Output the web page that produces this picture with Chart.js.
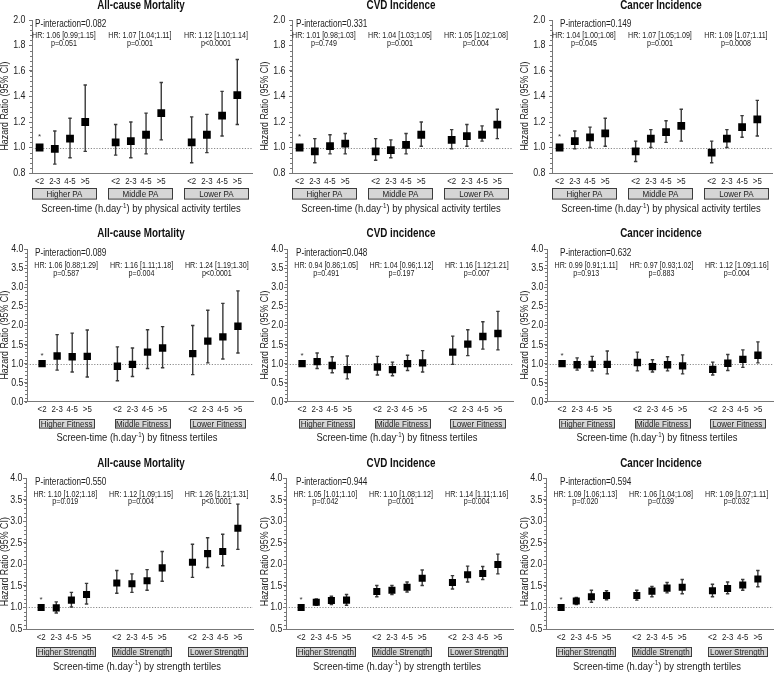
<!DOCTYPE html>
<html><head><meta charset="utf-8">
<script src="https://cdn.jsdelivr.net/npm/chart.js@4.4.1/dist/chart.umd.min.js"></script>
<style>
html,body{margin:0;padding:0;background:#fff;}
#wrap{position:relative;width:778px;height:673px;overflow:hidden;background:#fff;}
canvas{position:absolute;}
</style></head><body><div id="wrap"></div>
<script>
const FONT = '"Liberation Sans", Arial, Helvetica, sans-serif';
const NARROW = 0.82; // horizontal compression of the original's narrow typeface

// ---------- categories / tick labels ----------
const screenTimeLabels = ['<2', '2-3', '4-5', '>5'];
const xPositions = [0, 1, 2, 3, 5, 6, 7, 8, 10, 11, 12, 13];
const groupCenters = [1.5, 6.5, 11.5];
const outcomeTitles = [
  ['All-cause Mortality', 'CVD Incidence', 'Cancer Incidence'],
  ['All-cause Mortality', 'CVD incidence', 'Cancer incidence'],
  ['All-cause Mortality', 'CVD Incidence', 'Cancer Incidence']
];
const paGroups = ['Higher PA', 'Middle PA', 'Lower PA'];
const fitnessGroups = ['Higher Fitness', 'Middle Fitness', 'Lower Fitness'];
const strengthGroups = ['Higher Strength', 'Middle Strength', 'Lower Strength'];
const tertileNames = ['physical activity', 'fitness', 'strength'];
const yAxisTitle = 'Hazard Ratio (95% CI)';

// ---------- series values (HR, lower CI, upper CI) ----------
// Row 1: physical activity
const paMortHR = [1.00, 0.99, 1.07, 1.20, 1.04, 1.05, 1.10, 1.27, 1.04, 1.10, 1.25, 1.41];
const paMortLo = [null, 0.87, 0.92, 0.97, 0.94, 0.92, 0.95, 1.06, 0.88, 0.96, 1.09, 1.18];
const paMortHi = [null, 1.13, 1.23, 1.49, 1.18, 1.20, 1.27, 1.51, 1.24, 1.26, 1.44, 1.69];
const paCvdHR = [1.00, 0.97, 1.01, 1.03, 0.97, 0.98, 1.02, 1.10, 1.06, 1.09, 1.10, 1.18];
const paCvdLo = [null, 0.88, 0.95, 0.95, 0.90, 0.92, 0.95, 1.01, 0.99, 1.01, 1.05, 1.07];
const paCvdHi = [null, 1.07, 1.10, 1.11, 1.07, 1.06, 1.11, 1.20, 1.14, 1.18, 1.17, 1.30];
const paCancerHR = [1.00, 1.05, 1.08, 1.11, 0.97, 1.07, 1.12, 1.17, 0.96, 1.07, 1.16, 1.22];
const paCancerLo = [null, 0.99, 1.00, 1.01, 0.89, 1.00, 1.04, 1.05, 0.88, 1.00, 1.08, 1.09];
const paCancerHi = [null, 1.13, 1.16, 1.23, 1.05, 1.14, 1.21, 1.30, 1.05, 1.14, 1.25, 1.37];
// Row 2: fitness
const fitMortHR = [1.00, 1.20, 1.18, 1.19, 0.93, 0.98, 1.30, 1.41, 1.26, 1.59, 1.70, 1.98];
const fitMortLo = [null, 0.83, 0.78, 0.65, 0.55, 0.66, 0.87, 0.89, 0.71, 1.02, 1.12, 1.28];
const fitMortHi = [null, 1.76, 1.80, 1.88, 1.44, 1.41, 1.89, 1.97, 2.00, 2.40, 2.58, 2.91];
const fitCvdHR = [1.00, 1.05, 0.95, 0.84, 0.91, 0.84, 1.00, 1.02, 1.30, 1.51, 1.71, 1.79];
const fitCvdLo = [null, 0.87, 0.76, 0.60, 0.70, 0.68, 0.82, 0.78, 0.98, 1.21, 1.38, 1.36];
const fitCvdHi = [null, 1.28, 1.18, 1.20, 1.19, 1.04, 1.22, 1.34, 1.72, 1.89, 2.10, 2.37];
const fitCancerHR = [1.00, 0.97, 0.98, 0.98, 1.03, 0.92, 0.97, 0.94, 0.85, 1.01, 1.11, 1.22];
const fitCancerLo = [null, 0.83, 0.81, 0.73, 0.81, 0.78, 0.81, 0.73, 0.70, 0.82, 0.90, 1.02];
const fitCancerHi = [null, 1.15, 1.19, 1.33, 1.30, 1.10, 1.18, 1.23, 1.04, 1.24, 1.36, 1.57];
// Row 3: strength
const strMortHR = [1.00, 0.99, 1.17, 1.30, 1.57, 1.55, 1.62, 1.92, 2.05, 2.25, 2.30, 2.84];
const strMortLo = [null, 0.87, 1.01, 1.08, 1.33, 1.35, 1.40, 1.61, 1.70, 1.93, 1.97, 2.35];
const strMortHi = [null, 1.13, 1.35, 1.56, 1.86, 1.78, 1.88, 2.30, 2.47, 2.62, 2.70, 3.40];
const strCvdHR = [1.00, 1.12, 1.16, 1.17, 1.37, 1.40, 1.47, 1.68, 1.58, 1.76, 1.79, 2.00];
const strCvdLo = [null, 1.05, 1.07, 1.05, 1.25, 1.30, 1.36, 1.51, 1.43, 1.59, 1.65, 1.78];
const strCvdHi = [null, 1.20, 1.26, 1.30, 1.51, 1.51, 1.59, 1.87, 1.74, 1.96, 1.95, 2.24];
const strCancerHR = [1.00, 1.15, 1.25, 1.28, 1.28, 1.38, 1.45, 1.47, 1.39, 1.44, 1.52, 1.66];
const strCancerLo = [null, 1.07, 1.12, 1.18, 1.17, 1.25, 1.34, 1.32, 1.25, 1.32, 1.40, 1.48];
const strCancerHi = [null, 1.23, 1.40, 1.39, 1.40, 1.49, 1.58, 1.65, 1.54, 1.59, 1.65, 1.86];

// ---------- annotation texts ----------
const pInteraction = [['0.082', '0.331', '0.149'], ['0.089', '0.048', '0.632'], ['0.550', '0.944', '0.594']];
const hrTexts = [
  [['HR: 1.06 [0.99;1.15]', 'HR: 1.07 [1.04;1.11]', 'HR: 1.12 [1.10;1.14]'],
   ['HR: 1.01 [0.98;1.03]', 'HR: 1.04 [1.03;1.05]', 'HR: 1.05 [1.02;1.08]'],
   ['HR: 1.04 [1.00;1.08]', 'HR: 1.07 [1.05;1.09]', 'HR: 1.09 [1.07;1.11]']],
  [['HR: 1.06 [0.88;1.29]', 'HR: 1.16 [1.11;1.18]', 'HR: 1.24 [1.19;1.30]'],
   ['HR: 0.94 [0.86;1.05]', 'HR: 1.04 [0.96;1.12]', 'HR: 1.16 [1.12;1.21]'],
   ['HR: 0.99 [0.91;1.11]', 'HR: 0.97 [0.93;1.02]', 'HR: 1.12 [1.09;1.16]']],
  [['HR: 1.10 [1.02;1.18]', 'HR: 1.12 [1.09;1.15]', 'HR: 1.26 [1.21;1.31]'],
   ['HR: 1.05 [1.01;1.10]', 'HR: 1.10 [1.08;1.12]', 'HR: 1.14 [1.11;1.16]'],
   ['HR: 1.09 [1.06;1.13]', 'HR: 1.06 [1.04;1.08]', 'HR: 1.09 [1.07;1.11]']]
];
const pTexts = [
  [['p=0.051', 'p=0.001', 'p<0.0001'], ['p=0.749', 'p=0.001', 'p=0.004'], ['p=0.045', 'p=0.001', 'p=0.0008']],
  [['p=0.587', 'p=0.004', 'p<0.0001'], ['p=0.491', 'p=0.197', 'p=0.007'], ['p=0.913', 'p=0.883', 'p=0.004']],
  [['p=0.019', 'p=0.004', 'p<0.0001'], ['p=0.042', 'p=0.001', 'p=0.004'], ['p=0.020', 'p=0.039', 'p=0.032']]
];

// ---------- layout (positions / styles) ----------
const colLeft = [0, 260, 520];
const rowTop = [0, 222, 445];
const rowHeight = [222, 223, 228];
const PANEL_W = 259;
const rowGeom = [
  {top: 20, bottom: 173, left: 32, right: 252.5, xmin: -0.5, xmax: 14, ymin: 0.8, ymax: 2.0, step: 0.2, minor: 0.04, r: 5.5, xlOff: 8, ylGap: 6.5,
   titleY: 6, pY: 24.3, hrY: 35.3, pvY: 43.3, boxTop: 187.7, boxH: 10.6, boxW: 64, xTitleY: 209.3, xTitleX: 141, yTitleY: 106, astOff: 11},
  {top: 27.3, bottom: 179.7, left: 27, right: 253, xmin: -1, xmax: 14, ymin: 0, ymax: 4, step: 0.5, minor: 0.1, r: 5.2, xlOff: 7.6, ylGap: 3.5,
   titleY: 12, pY: 31.7, hrY: 44, pvY: 51.3, boxTop: 197, boxH: 8.6, boxW: 55, xTitleY: 216.3, xTitleX: 137, yTitleY: 113, astOff: 8},
  {top: 33.3, bottom: 184, left: 26, right: 253, xmin: -1, xmax: 14, ymin: 0.5, ymax: 4, step: 0.5, minor: 0.1, r: 5, xlOff: 8.7, ylGap: 3.5,
   titleY: 18.3, pY: 37.3, hrY: 49.3, pvY: 56.7, boxTop: 201.7, boxH: 9, boxW: 59, xTitleY: 221.7, xTitleX: 137, yTitleY: 116.7, astOff: 8}
];
const pX = [35, 36, 40];

const series = [
  [[paMortHR, paMortLo, paMortHi], [paCvdHR, paCvdLo, paCvdHi], [paCancerHR, paCancerLo, paCancerHi]],
  [[fitMortHR, fitMortLo, fitMortHi], [fitCvdHR, fitCvdLo, fitCvdHi], [fitCancerHR, fitCancerLo, fitCancerHi]],
  [[strMortHR, strMortLo, strMortHi], [strCvdHR, strCvdLo, strCvdHi], [strCancerHR, strCancerLo, strCancerHi]]
];
const rowGroups = [paGroups, fitnessGroups, strengthGroups];

function font(size, bold) { return (bold ? 'bold ' : '') + size + 'px ' + FONT; }
function txt(ctx, s, x, y, size, align, bold, color, sx) {
  ctx.save();
  ctx.translate(x, y);
  ctx.scale(sx == null ? NARROW : sx, 1);
  ctx.font = font(size, bold);
  ctx.fillStyle = color || '#222';
  ctx.textAlign = align || 'center';
  ctx.textBaseline = 'middle';
  ctx.fillText(s, 0, 0);
  ctx.restore();
}
function measure(ctx, s, size, bold) {
  ctx.save(); ctx.font = font(size, bold);
  const w = ctx.measureText(s).width * NARROW;
  ctx.restore(); return w;
}

function makePanel(row, col) {
  const g = rowGeom[row];
  const [hr, lo, hi] = series[row][col];
  const H = rowHeight[row];
  const canvas = document.createElement('canvas');
  canvas.width = PANEL_W; canvas.height = H;
  canvas.style.left = colLeft[col] + 'px';
  canvas.style.top = rowTop[row] + 'px';
  canvas.style.width = PANEL_W + 'px';
  canvas.style.height = H + 'px';
  document.getElementById('wrap').appendChild(canvas);

  const plugin = {
    id: 'panelDecor',
    beforeDatasetsDraw(chart) {
      const ctx = chart.ctx, xs = chart.scales.x, ys = chart.scales.y, ca = chart.chartArea;
      const y1 = Math.round(ys.getPixelForValue(1)) + 0.5;
      ctx.save();
      ctx.strokeStyle = '#8a8a8a';
      ctx.lineWidth = 1;
      ctx.setLineDash([1.2, 1.6]);
      ctx.beginPath(); ctx.moveTo(ca.left, y1); ctx.lineTo(ca.right, y1); ctx.stroke();
      ctx.restore();
      ctx.save();
      ctx.strokeStyle = '#3a3a3a';
      ctx.lineWidth = 1.4;
      for (let i = 0; i < hr.length; i++) {
        if (lo[i] == null) continue;
        const x = xs.getPixelForValue(xPositions[i]);
        const a = ys.getPixelForValue(lo[i]), b = ys.getPixelForValue(hi[i]);
        ctx.beginPath();
        ctx.moveTo(x, a); ctx.lineTo(x, b);
        ctx.moveTo(x - 1.7, a); ctx.lineTo(x + 1.7, a);
        ctx.moveTo(x - 1.7, b); ctx.lineTo(x + 1.7, b);
        ctx.stroke();
      }
      ctx.restore();
    },
    afterDraw(chart) {
      const ctx = chart.ctx, xs = chart.scales.x, ys = chart.scales.y, ca = chart.chartArea;
      // minor ticks
      ctx.save();
      ctx.strokeStyle = '#777';
      ctx.lineWidth = 1;
      ctx.beginPath();
      for (let v = g.ymin; v <= g.ymax + 1e-9; v += g.minor) {
        const y = Math.round(ys.getPixelForValue(v)) + 0.5;
        ctx.moveTo(ca.left - 2, y); ctx.lineTo(ca.left, y);
      }
      ctx.stroke();
      ctx.restore();
      // y tick labels from the y scale's own ticks
      for (const t of ys.ticks) {
        txt(ctx, Number(t.value).toFixed(1), ca.left - g.ylGap, ys.getPixelForValue(t.value), 10.8, 'right', false, '#222');
      }
      // x category labels, placed by the x scale
      for (let i = 0; i < xPositions.length; i++) {
        txt(ctx, screenTimeLabels[i % 4], xs.getPixelForValue(xPositions[i]), ca.bottom + g.xlOff, 9.6, 'center', false, '#222');
      }
      // title
      txt(ctx, outcomeTitles[row][col], 141, g.titleY, 12, 'center', true, '#111');
      // P-interaction
      txt(ctx, 'P-interaction=' + pInteraction[row][col], pX[col], g.pY, 10, 'left', false, '#222');
      // HR / p texts
      for (let k = 0; k < 3; k++) {
        const cx = xs.getPixelForValue(groupCenters[k]) + 1.5;
        txt(ctx, hrTexts[row][col][k], cx, g.hrY, 8.7, 'center', false, '#222');
        txt(ctx, pTexts[row][col][k], cx, g.pvY, 8.7, 'center', false, '#222');
      }
      // asterisk above reference category
      txt(ctx, '*', xs.getPixelForValue(xPositions[0]), ys.getPixelForValue(1) - g.astOff, 8, 'center', false, '#333', 1);
      // group boxes
      for (let k = 0; k < 3; k++) {
        const cx = xs.getPixelForValue(groupCenters[k]) + 2;
        const x0 = Math.round(cx - g.boxW / 2) + 0.5, y0 = Math.round(g.boxTop) + 0.5;
        ctx.save();
        ctx.fillStyle = '#d6d6d6';
        ctx.fillRect(x0, y0, g.boxW, g.boxH);
        ctx.strokeStyle = '#3c3c3c';
        ctx.lineWidth = 1;
        ctx.strokeRect(x0, y0, g.boxW, g.boxH);
        ctx.restore();
        txt(ctx, rowGroups[row][k], cx, y0 + g.boxH / 2 + 0.5, 9.8, 'center', false, '#222');
      }
      // x title with superscript
      const p1 = 'Screen-time (h.day', sup = '-1', p2 = ') by ' + tertileNames[row] + ' tertiles';
      const w1 = measure(ctx, p1, 11.5), ws = measure(ctx, sup, 7.5), w2 = measure(ctx, p2, 11.5);
      let x = g.xTitleX - (w1 + ws + w2) / 2;
      txt(ctx, p1, x, g.xTitleY, 11.5, 'left', false, '#222'); x += w1;
      txt(ctx, sup, x, g.xTitleY - 3.5, 7.5, 'left', false, '#222'); x += ws;
      txt(ctx, p2, x, g.xTitleY, 11.5, 'left', false, '#222');
      // y title
      ctx.save();
      ctx.translate(5.5, g.yTitleY);
      ctx.rotate(-Math.PI / 2);
      txt(ctx, yAxisTitle, 0, 0, 10.8, 'center', false, '#222');
      ctx.restore();
    }
  };

  new Chart(canvas, {
    type: 'scatter',
    data: {
      datasets: [{
        data: xPositions.map((x, i) => ({x: x, y: hr[i]})),
        pointStyle: 'rect',
        pointRadius: g.r,
        pointHoverRadius: g.r,
        backgroundColor: '#000',
        borderColor: '#000',
        borderWidth: 0
      }]
    },
    options: {
      responsive: false,
      animation: false,
      events: [],
      layout: {padding: {left: 0, right: PANEL_W - g.right, top: g.top, bottom: 0}},
      plugins: {legend: {display: false}, tooltip: {enabled: false}, title: {display: false}},
      scales: {
        x: {
          type: 'linear', min: g.xmin, max: g.xmax,
          afterBuildTicks: s => { s.ticks = xPositions.map(v => ({value: v})); },
          afterFit: s => { s.height = H - g.bottom; },
          ticks: {display: false},
          grid: {display: false, drawTicks: false},
          border: {display: true, color: '#777', width: 1}
        },
        y: {
          min: g.ymin, max: g.ymax,
          afterFit: s => { s.width = g.left; },
          ticks: {display: false, stepSize: g.step},
          grid: {display: true, drawOnChartArea: false, drawTicks: true, tickLength: 3, color: '#777'},
          border: {display: true, color: '#777', width: 1}
        }
      }
    },
    plugins: [plugin]
  });
}

for (let r = 0; r < 3; r++) for (let c = 0; c < 3; c++) makePanel(r, c);
</script></body></html>
